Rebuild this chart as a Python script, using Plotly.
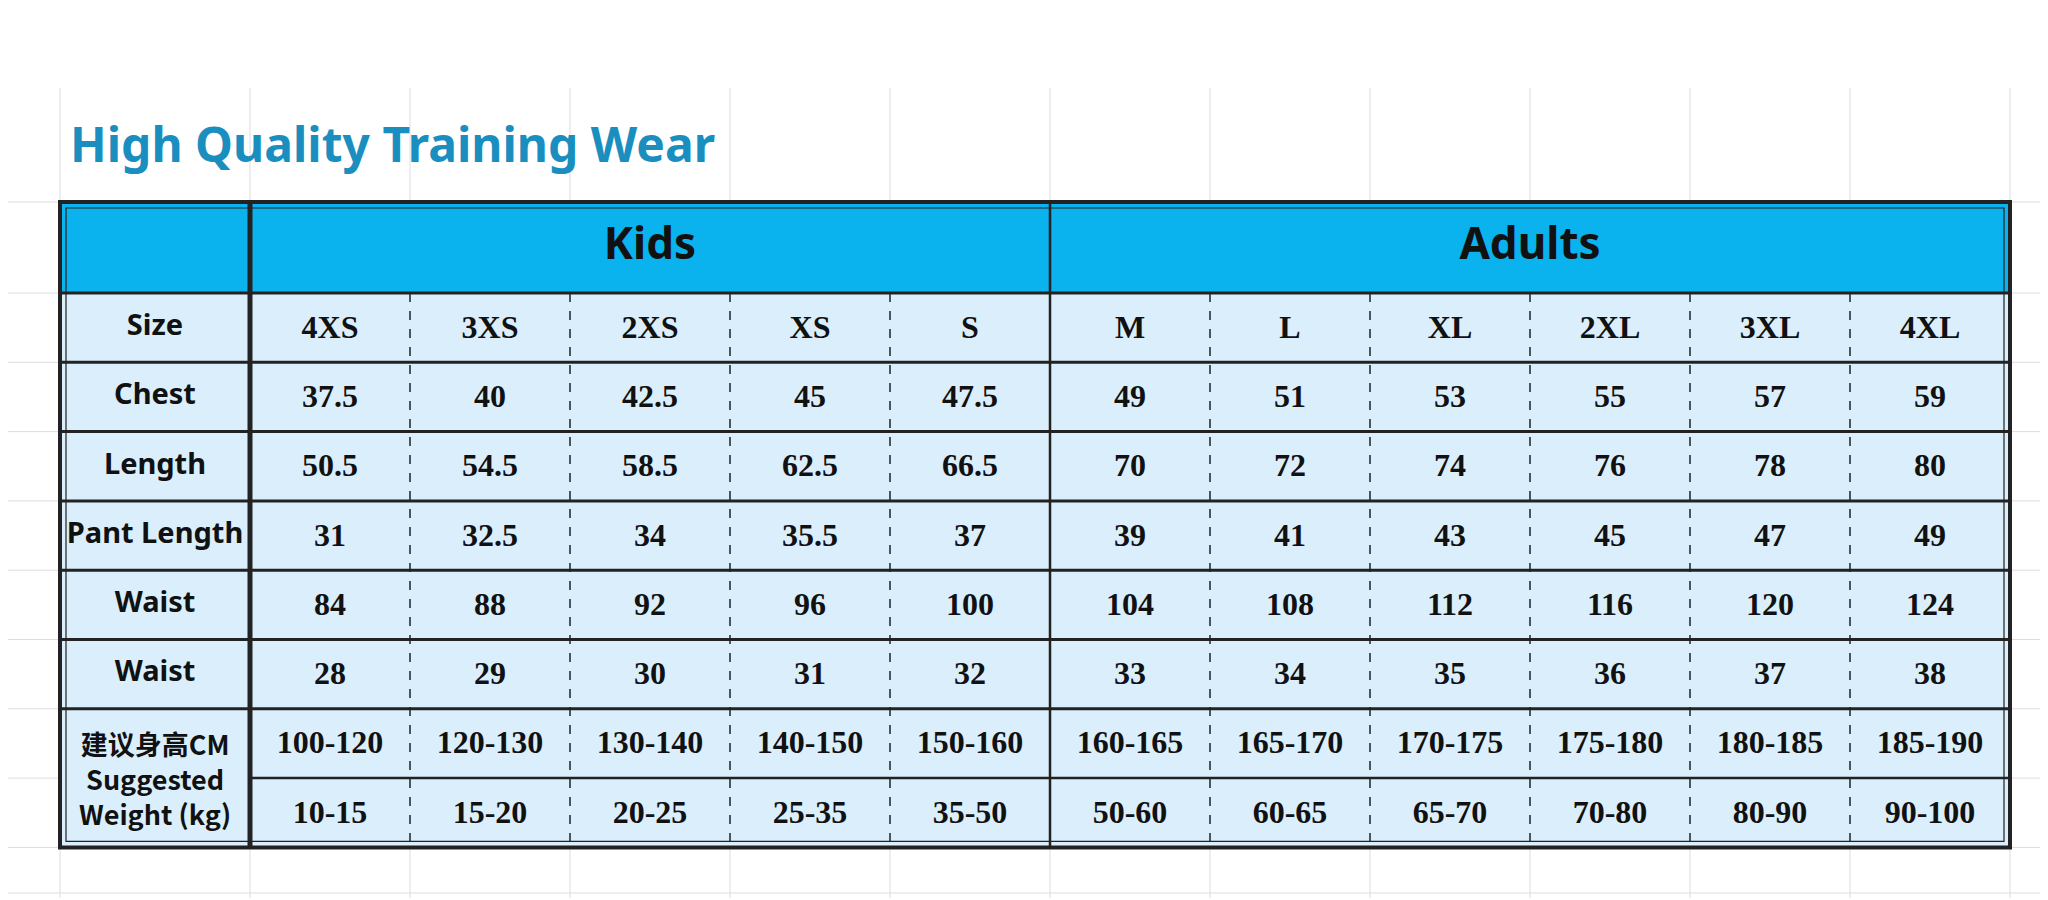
import plotly.graph_objects as go

title = "High Quality Training Wear"
groups = ["Kids", "Adults"]
group_span = [5, 6]
sizes = ["4XS", "3XS", "2XS", "XS", "S", "M", "L", "XL", "2XL", "3XL", "4XL"]
row_labels = ["Chest", "Length", "Pant Length", "Waist", "Waist"]
chest = ["37.5", "40", "42.5", "45", "47.5", "49", "51", "53", "55", "57", "59"]
length = ["50.5", "54.5", "58.5", "62.5", "66.5", "70", "72", "74", "76", "78", "80"]
pant = ["31", "32.5", "34", "35.5", "37", "39", "41", "43", "45", "47", "49"]
waist1 = ["84", "88", "92", "96", "100", "104", "108", "112", "116", "120", "124"]
waist2 = ["28", "29", "30", "31", "32", "33", "34", "35", "36", "37", "38"]
height = ["100-120", "120-130", "130-140", "140-150", "150-160", "160-165", "165-170", "170-175", "175-180", "180-185", "185-190"]
weight = ["10-15", "15-20", "20-25", "25-35", "35-50", "50-60", "60-65", "65-70", "70-80", "80-90", "90-100"]
last_label = "<b>建议身高CM</b><br><b>Suggested</b><br><b>Weight (kg)</b>"

X0, XL, X1 = 52, 242, 2002
Y0, YH = 194, 285
RH = 69.3
ncol = len(sizes)
cw = (X1 - XL) / ncol
colx = [XL + i * cw for i in range(ncol + 1)]
data_rows = [sizes, chest, length, pant, waist1, waist2, height, weight]
rowy = [YH + i * RH for i in range(len(data_rows) + 1)]
Y1 = rowy[-1]

shapes = []
def rect(x0, y0, x1, y1, fill, lw=0, lc="#222", layer="below"):
    shapes.append(dict(type="rect", x0=x0, y0=y0, x1=x1, y1=y1, fillcolor=fill,
                       line=dict(width=lw, color=lc), layer=layer))
def line(x0, y0, x1, y1, w=2, c="#222", dash="solid", layer="above"):
    shapes.append(dict(type="line", x0=x0, y0=y0, x1=x1, y1=y1,
                       line=dict(width=w, color=c, dash=dash), layer=layer))

for x in [X0] + colx:
    line(x, 80, x, 890, 1, "#dddddd", layer="below")
for y in [Y0] + rowy + [885]:
    line(0, y, 2048, y, 1, "#dddddd", layer="below")

rect(X0, Y0, X1, YH, "#0AB2EE")
rect(X0, YH, X1, Y1, "#DAEEFB")
for i, y in enumerate(rowy[:-1]):
    if i == len(data_rows) - 1:
        line(XL, y, X1, y, 2.5)
    else:
        line(X0, y, X1, y, 3)
line(XL, Y0, XL, Y1, 5)
kids_end = colx[group_span[0]]
line(kids_end, Y0, kids_end, Y1, 2.5)
for i in range(1, ncol):
    if i != group_span[0]:
        line(colx[i], YH, colx[i], Y1, 1.5, dash="dash")
rect(X0, Y0, X1, Y1, "rgba(0,0,0,0)", 4, layer="above")
rect(X0 + 6, Y0 + 6, X1 - 6, Y1 - 6, "rgba(0,0,0,0)", 1.2, layer="above")

fig = go.Figure()
xs, ys, ts = [], [], []
for r, row in enumerate(data_rows):
    for c, v in enumerate(row):
        xs.append((colx[c] + colx[c + 1]) / 2)
        ys.append((rowy[r] + rowy[r + 1]) / 2 + 2)
        ts.append(f"<b>{v}</b>")
fig.add_trace(go.Scatter(x=xs, y=ys, text=ts, mode="text", hoverinfo="skip",
                         textfont=dict(family="Liberation Serif", size=32, color="#111")))
lx, ly, lt = [], [], []
for r, lab in enumerate(["Size"] + row_labels):
    lx.append((X0 + XL) / 2); ly.append((rowy[r] + rowy[r + 1]) / 2); lt.append(f"<b>{lab}</b>")
fig.add_trace(go.Scatter(x=lx, y=ly, text=lt, mode="text", hoverinfo="skip",
                         textfont=dict(family="Noto Sans", size=29, color="#111")))
gx = [(XL + kids_end) / 2, (kids_end + X1) / 2]
fig.add_trace(go.Scatter(x=gx, y=[(Y0 + YH) / 2] * 2, text=[f"<b>{g}</b>" for g in groups],
                         mode="text", hoverinfo="skip",
                         textfont=dict(family="Noto Sans", size=44, color="#111")))

annotations = [
    dict(x=(X0 + XL) / 2, y=rowy[-3] + RH, text=last_label, showarrow=False, xref="x", yref="y",
         font=dict(family="Noto Sans CJK SC", size=27, color="#111"), align="center"),
    dict(x=60, y=135, text="<b>" + title + "</b>", showarrow=False, xref="x", yref="y", xanchor="left",
         font=dict(family="Noto Sans", size=48, color="#1A8FBF")),
]

fig.update_layout(width=2048, height=900, margin=dict(l=0, r=0, t=0, b=0),
                  paper_bgcolor="white", plot_bgcolor="white", showlegend=False,
                  shapes=shapes, annotations=annotations,
                  xaxis=dict(range=[0, 2048], visible=False, fixedrange=True),
                  yaxis=dict(range=[900, 0], visible=False, fixedrange=True))
fig.write_html("out.html")
